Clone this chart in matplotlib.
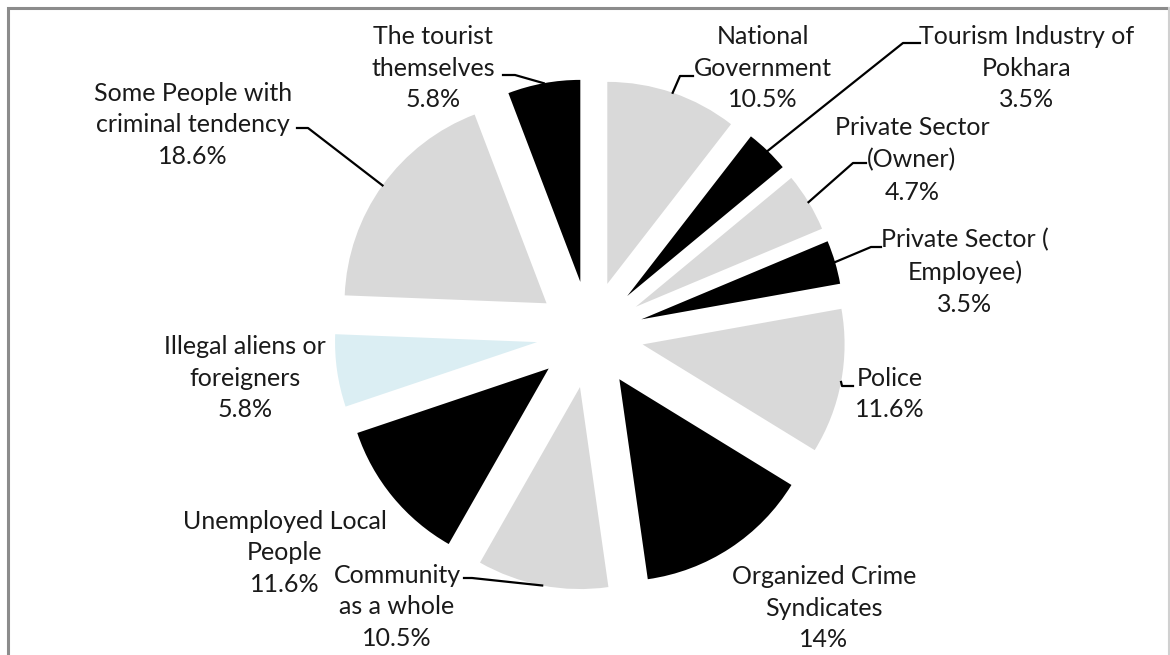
import numpy as np
import matplotlib.pyplot as plt

# share of respondents naming each group, clockwise from 12 o'clock
groups = [
    "National\nGovernment",
    "Tourism Industry of\nPokhara",
    "Private Sector\n(Owner)",
    "Private Sector (\nEmployee)",
    "Police",
    "Organized Crime\nSyndicates",
    "Community\nas a whole",
    "Unemployed Local\nPeople",
    "Illegal aliens or\nforeigners",
    "Some People with\ncriminal tendency",
    "The tourist\nthemselves",
]
shares = [10.5, 3.5, 4.7, 3.5, 11.6, 14, 10.5, 11.6, 5.8, 18.6, 5.8]
pct_text = ["10.5%", "3.5%", "4.7%", "3.5%", "11.6%", "14%", "10.5%",
            "11.6%", "5.8%", "18.6%", "5.8%"]

W, H = 1170, 655
GRAY = "#d9d9d9"
colors = [GRAY, "black", GRAY, "black", GRAY, "black", GRAY, "black",
          "#dbeef3", GRAY, "black"]

# label block centres in pixel coords (y from top)
label_xy = [(763, 68), (1027, 68), (912, 160), (965, 272), (890, 394),
            (824, 608), (397, 607), (285, 553), (245, 378), (193, 125),
            (433, 68)]

# leader lines: elbow and end near text, starting at the arc middle
leaders = {
    0: [(680, 76), (693, 76)],
    1: [(903, 43), (920, 43)],
    2: [(853, 163), (866, 163)],
    3: [(871, 247), (881, 247)],
    4: [(842, 386), (853, 386)],
    6: [(472, 578), (464, 578)],
    9: [(308, 128), (297, 128)],
    10: [(515, 75), (503, 75)],
}

fig = plt.figure(figsize=(W / 100, H / 100), dpi=100)
fig.patch.set_facecolor("white")
ax = fig.add_axes([0, 0, 1, 1])

wedges, _ = ax.pie(shares, colors=colors, startangle=90, counterclock=False,
                   radius=202, center=(590, H - 334.5),
                   explode=[53.5] * len(shares),
                   wedgeprops=dict(linewidth=0))
ax.set_xlim(0, W)
ax.set_ylim(0, H)
ax.set_aspect("equal")
ax.axis("off")

# chart area border (cropped on right and bottom)
ax.plot([8, 8, W], [0, H - 8, H - 8], color="#8c8c8c", lw=2.2,
        solid_joinstyle="miter", zorder=0)
ax.plot([W - 1, W - 1], [0, H - 8], color="#d0d0d0", lw=1.5, zorder=0)

for i, (name, pct) in enumerate(zip(groups, pct_text)):
    x, y = label_xy[i]
    ax.text(x, H - y, name + "\n" + pct, ha="center", va="center",
            multialignment="center", fontsize=18, family=["Lato", "DejaVu Sans"],
            color="#1a1a1a", linespacing=1.47)

for i, pts in leaders.items():
    w = wedges[i]
    mid = np.deg2rad((w.theta1 + w.theta2) / 2)
    cx, cy = w.center
    xs = [cx + w.r * np.cos(mid)] + [p[0] for p in pts]
    ys = [cy + w.r * np.sin(mid)] + [H - p[1] for p in pts]
    ax.plot(xs, ys, color="black", lw=1.6)

fig.savefig("out.png", dpi=100)
